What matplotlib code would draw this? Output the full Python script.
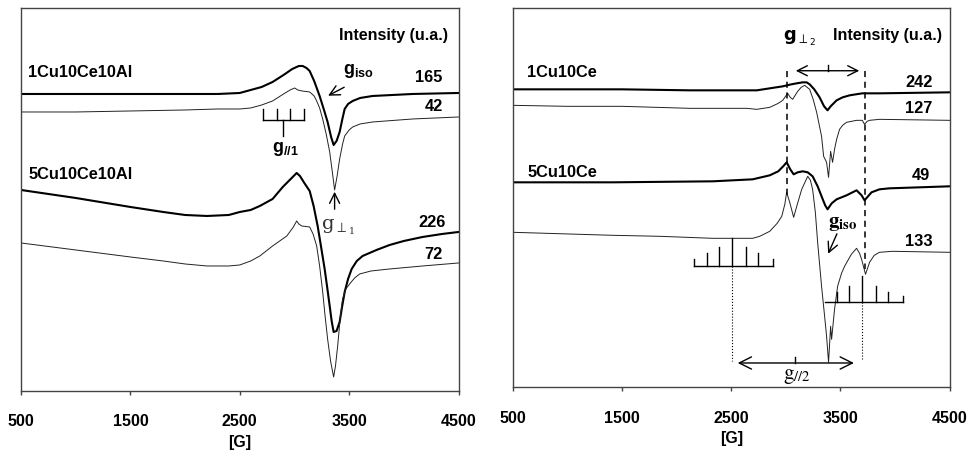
import matplotlib
matplotlib.use('Agg')
import matplotlib.pyplot as plt

main_font = 'Liberation Sans'
plt.rcParams['font.family'] = [main_font, 'DejaVu Sans']
plt.rcParams['mathtext.fontset'] = 'custom'
plt.rcParams['mathtext.rm'] = main_font + ':bold'
plt.rcParams['mathtext.bf'] = main_font + ':bold'
plt.rcParams['mathtext.it'] = main_font + ':bold:italic'

# ---- left panel: alumina supported samples (field in G, intensity in a.u.)
field_1cu10ce10al = [500, 1000, 1500, 2000, 2300, 2500, 2600, 2700, 2800, 2900, 2980, 3040,
                     3075, 3110, 3139, 3180, 3230, 3270, 3303, 3335, 3358, 3385, 3413, 3440,
                     3459, 3490, 3532, 3600, 3714, 4080, 4500]
int_1cu10ce10al = [297, 297, 297, 297, 297, 298, 301, 304, 309, 316, 322, 325,
                   325, 323, 320, 310, 295, 281, 269, 254, 246, 250, 259, 273,
                   282, 287, 290, 293, 295, 297, 298]

field_42 = [500, 1000, 1500, 2000, 2300, 2500, 2600, 2700, 2800, 2900, 2960, 3002, 3030,
            3070, 3139, 3180, 3203, 3230, 3258, 3290, 3322, 3345, 3367, 3390, 3413, 3440,
            3459, 3500, 3532, 3600, 3714, 4080, 4500]
int_42 = [279, 279, 280, 281, 282, 282, 283, 286, 290, 297, 301, 303, 301,
          300, 299, 295, 290, 283, 272, 257, 239, 220, 201, 215, 232, 247,
          255, 261, 264, 267, 269, 272, 274]

field_5cu10ce10al = [500, 1000, 1500, 1800, 2000, 2200, 2400, 2500, 2600, 2683, 2800, 2893,
                     2984, 3020, 3050, 3090, 3139, 3175, 3212, 3245, 3276, 3300, 3322, 3340,
                     3358, 3385, 3413, 3435, 3459, 3490, 3523, 3570, 3623, 3750, 3870, 4000,
                     4171, 4350, 4500]
int_5cu10ce10al = [201, 193, 184, 179, 176, 175, 176, 179, 181, 185, 192, 204,
                   214, 218, 215, 208, 200, 185, 165, 143, 122, 103, 85, 70,
                   59, 60, 69, 84, 99, 112, 122, 130, 135, 141, 146, 150,
                   154, 157, 159]

field_72 = [500, 1000, 1500, 1800, 2000, 2200, 2400, 2500, 2600, 2683, 2800, 2930, 2990,
            3020, 3040, 3066, 3139, 3170, 3203, 3230, 3258, 3280, 3303, 3330, 3358, 3375,
            3395, 3420, 3440, 3470, 3504, 3550, 3596, 3700, 3870, 4171, 4500]
int_72 = [148, 141, 134, 130, 127, 125, 125, 126, 130, 135, 145, 155, 164,
          170, 167, 165, 164, 157, 145, 125, 99, 75, 52, 30, 14, 25,
          45, 75, 92, 102, 107, 113, 117, 120, 122, 125, 128]

# ---- right panel: ceria samples
field_1cu10ce = [500, 1500, 2120, 2600, 2733, 2852, 2971, 3050, 3099, 3154, 3190, 3218,
                 3260, 3309, 3350, 3382, 3410, 3465, 3520, 3584, 3700, 3858, 4500]
int_1cu10ce = [298, 298, 297, 297, 297, 299, 301, 303, 304, 305, 305, 303,
               298, 290, 281, 277, 281, 287, 290, 292, 294, 294, 295]

field_127 = [500, 1000, 1500, 2120, 2641, 2733, 2852, 2930, 2971, 3016, 3040, 3062, 3108,
             3140, 3172, 3218, 3250, 3282, 3327, 3346, 3373, 3391, 3410, 3428, 3446,
             3465, 3492, 3520, 3556, 3648, 3700, 3721, 3745, 3767, 3858, 4500]
int_127 = [282, 281, 281, 279, 279, 278, 280, 284, 287, 294, 290, 288, 296,
           300, 302, 298, 288, 275, 251, 231, 225, 210, 236, 225, 238,
           248, 258, 262, 265, 267, 267, 263, 266, 267, 268, 267]

field_5cu10ce = [500, 1415, 2330, 2696, 2852, 2930, 2975, 3007, 3040, 3071, 3108, 3154,
                 3200, 3245, 3291, 3327, 3360, 3382, 3420, 3465, 3556, 3648, 3694, 3721,
                 3745, 3785, 3858, 3950, 4500]
int_5cu10ce = [205, 205, 206, 208, 212, 216, 221, 225, 218, 213, 215, 216,
               215, 211, 201, 191, 182, 178, 184, 188, 192, 197, 192, 187,
               190, 195, 198, 199, 201]

field_133 = [500, 1415, 1845, 2330, 2458, 2696, 2760, 2852, 2920, 2962, 2990, 3007, 3035,
             3071, 3110, 3145, 3200, 3225, 3245, 3270, 3291, 3327, 3355, 3373, 3391, 3410,
             3419, 3446, 3474, 3510, 3538, 3600, 3648, 3675, 3694, 3730, 3767, 3810, 3858,
             3977, 4500]
int_133 = [155, 152, 151, 149, 149, 149, 151, 156, 164, 171, 183, 195, 185,
           170, 185, 198, 211, 207, 198, 175, 145, 101, 71, 51, 25, 61,
           48, 78, 101, 114, 121, 133, 139, 134, 128, 113, 125, 132, 135,
           136, 135]

# hyperfine combs (field positions and tick heights)
comb_left_x = [2158, 2274, 2387, 2503, 2632, 2747, 2882]
comb_left_h = [128, 134, 140, 149, 140, 134, 128]
comb_left_base = 121.6
comb_right_x = [3471, 3581, 3695, 3823, 3939, 4071]
comb_right_h = [95, 101.6, 111.6, 101.6, 95, 91.6]
comb_right_base = 85

comb1_x = [2710, 2838, 2957, 3084]

xticks = [500, 1500, 2500, 3500, 4500]

fig = plt.figure(figsize=(9.69, 4.56), dpi=100)
ax1 = fig.add_axes([0.0217, 0.1404, 0.4515, 0.8399])
ax2 = fig.add_axes([0.5296, 0.1485, 0.4503, 0.8310])

thick = dict(color='black', lw=1.5)
thin = dict(color='#222222', lw=0.7)

ax1.plot(field_1cu10ce10al, int_1cu10ce10al, **thick)
ax1.plot(field_42, int_42, **thin)
ax1.plot(field_5cu10ce10al, int_5cu10ce10al, **thick)
ax1.plot(field_72, int_72, **thin)
ax1.set_ylim(0, 383)

ax2.plot(field_1cu10ce, int_1cu10ce, **thick)
ax2.plot(field_127, int_127, **thin)
ax2.plot(field_5cu10ce, int_5cu10ce, **thick)
ax2.plot(field_133, int_133, **thin)
ax2.set_ylim(0, 379)

fs = 11.5
for ax in (ax1, ax2):
    ax.set_xlim(500, 4500)
    ax.set_xticks(xticks)
    ax.set_xticklabels([str(t) for t in xticks], fontweight='bold')
    ax.set_yticks([])
    ax.tick_params(axis='x', direction='out', length=3, width=1, color='#444444',
                   pad=13, labelsize=fs)
    for s in ax.spines.values():
        s.set_color('#444444')
        s.set_linewidth(1)
    ax.set_xlabel('[G]', fontsize=fs, fontweight='bold', labelpad=4)
    ax.text(0.975 if ax is ax1 else 0.982, 0.932, 'Intensity (u.a.)', transform=ax.transAxes,
            ha='right', va='center', fontsize=fs, fontweight='bold')

lab = dict(fontsize=fs + 0.3, fontweight='bold', va='center')
ax1.text(564, 319, '1Cu10Ce10Al', ha='left', **lab)
ax1.text(564, 217, '5Cu10Ce10Al', ha='left', **lab)
ax1.text(4354, 314, '165', ha='right', **lab)
ax1.text(4354, 285, '42', ha='right', **lab)
ax1.text(4381, 169, '226', ha='right', **lab)
ax1.text(4354, 137, '72', ha='right', **lab)

ax2.text(627, 316, '1Cu10Ce', ha='left', **lab)
ax2.text(627, 216, '5Cu10Ce', ha='left', **lab)
ax2.text(4346, 306, '242', ha='right', **lab)
ax2.text(4346, 280, '127', ha='right', **lab)
ax2.text(4320, 213, '49', ha='right', **lab)
ax2.text(4346, 147, '133', ha='right', **lab)

arrow = dict(arrowstyle='->', lw=1, color='black', mutation_scale=18)

# left annotations
ax1.text(3587, 321, r'$\mathbf{g}_{\mathbf{iso}}$', ha='center', va='center', fontsize=13)
ax1.annotate('', xy=(3285, 294), xytext=(3477, 305), arrowprops=arrow)
ax1.plot([comb1_x[0], comb1_x[-1]], [271, 271], color='black', lw=1)
for cx in comb1_x:
    ax1.plot([cx, cx], [271, 282], color='black', lw=1)
ax1.plot([2897, 2897], [255, 271], color='black', lw=1)
ax1.text(2920, 243, r'$\mathbf{g}_{\mathbf{//1}}$', ha='center', va='center', fontsize=13)
ax1.annotate('', xy=(3367, 202), xytext=(3367, 179), arrowprops=arrow)
ax1.text(3395, 165, r'$\mathrm{g}_{\perp_1}$', ha='center', va='center', fontsize=14,
         math_fontfamily='dejavuserif', color='#333333')

# right annotations
ax2.text(3130, 350, r'$\mathbf{g}_{\perp_2}$', ha='center', va='center', fontsize=13,
         math_fontfamily='dejavusans')
ax2.annotate('', xy=(3065, 316.6), xytext=(3698, 316.6),
             arrowprops=dict(arrowstyle='<->', lw=1, color='black', mutation_scale=18))
ax2.plot([3386, 3386], [316.6, 322], color='black', lw=1)
ax2.plot([3007, 3007], [316, 188], color='black', lw=1.1, ls=(0, (4, 3)))
ax2.plot([3721, 3721], [316, 118], color='black', lw=1.1, ls=(0, (4, 3)))

ax2.text(3525, 165, r'$\mathbf{g}_{\mathbf{iso}}$', ha='center', va='center', fontsize=15,
         math_fontfamily='stix')
ax2.annotate('', xy=(3377, 131), xytext=(3478, 156), arrowprops=arrow)

ax2.plot([comb_left_x[0], comb_left_x[-1]], [comb_left_base] * 2, color='black', lw=1)
for cx, ch in zip(comb_left_x, comb_left_h):
    ax2.plot([cx, cx], [comb_left_base, ch], color='black', lw=1)
ax2.plot([3358, comb_right_x[-1]], [comb_right_base] * 2, color='black', lw=1)
for cx, ch in zip(comb_right_x, comb_right_h):
    ax2.plot([cx, cx], [comb_right_base, ch], color='black', lw=1)

ax2.plot([2503, 2503], [comb_left_base, 26.6], color='black', lw=0.8, ls=':')
ax2.plot([3695, 3695], [comb_right_base, 28], color='black', lw=0.8, ls=':')
ax2.annotate('', xy=(2533, 24.3), xytext=(3649, 24.3),
             arrowprops=dict(arrowstyle='<->', lw=1, color='black', mutation_scale=22))
ax2.plot([3083, 3083], [24.3, 30], color='black', lw=1)
ax2.text(3100, 12, r'$\mathrm{g}_{//2}$', ha='center', va='center', fontsize=15,
         math_fontfamily='stix')

fig.savefig('out.png', dpi=100)
